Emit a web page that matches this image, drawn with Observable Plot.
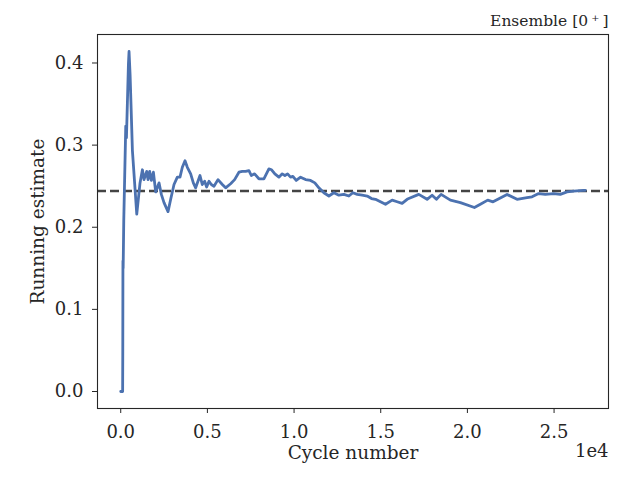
<!DOCTYPE html>
<html>
<head>
<meta charset="utf-8">
<script src="https://cdn.jsdelivr.net/npm/d3@7"></script>
<script src="https://cdn.jsdelivr.net/npm/@observablehq/plot@0.6"></script>
<style>
  html, body { margin: 0; padding: 0; background: #fff; }
</style>
</head>
<body>
<div id="chart"></div>
<script>
const cycles = [0, 110, 118, 128, 140, 175, 290, 330, 445, 480, 540, 675, 925, 1113, 1251, 1343, 1499, 1574, 1672, 1770, 1885, 2017, 2209, 2344, 2497, 2728, 2882, 3074, 3266, 3419, 3554, 3708, 3843, 4035, 4189, 4323, 4573, 4707, 4841, 4957, 5092, 5226, 5380, 5611, 5861, 6052, 6340, 6571, 6820, 7014, 7205, 7397, 7533, 7723, 7971, 8259, 8547, 8703, 8893, 9124, 9317, 9471, 9625, 9798, 9932, 10124, 10375, 10663, 10951, 11200, 11431, 11719, 12008, 12296, 12584, 12873, 13161, 13392, 13643, 13931, 14219, 14467, 14697, 14985, 15274, 15658, 15946, 16234, 16522, 16618, 17195, 17675, 17963, 18213, 18482, 19020, 19597, 20403, 20749, 21172, 21480, 22288, 22864, 23441, 23729, 24111, 24496, 24975, 25360, 25746, 26130, 26700, 26800];
const estimates = [0, 0, 0.044, 0.159, 0.150, 0.208, 0.323, 0.309, 0.399, 0.414, 0.386, 0.293, 0.216, 0.254, 0.270, 0.258, 0.268, 0.258, 0.268, 0.257, 0.267, 0.243, 0.254, 0.240, 0.230, 0.219, 0.234, 0.252, 0.261, 0.261, 0.273, 0.281, 0.273, 0.265, 0.254, 0.248, 0.263, 0.252, 0.256, 0.249, 0.256, 0.252, 0.250, 0.258, 0.252, 0.248, 0.253, 0.258, 0.267, 0.268, 0.268, 0.269, 0.263, 0.265, 0.259, 0.259, 0.271, 0.270, 0.265, 0.261, 0.265, 0.263, 0.265, 0.261, 0.262, 0.257, 0.261, 0.258, 0.257, 0.254, 0.248, 0.242, 0.238, 0.242, 0.239, 0.240, 0.238, 0.242, 0.240, 0.239, 0.238, 0.235, 0.234, 0.231, 0.228, 0.233, 0.231, 0.229, 0.234, 0.235, 0.240, 0.234, 0.239, 0.234, 0.240, 0.233, 0.230, 0.224, 0.228, 0.233, 0.231, 0.240, 0.234, 0.236, 0.237, 0.241, 0.240, 0.241, 0.240, 0.243, 0.244, 0.245, 0.245];
const referenceValue = [0.244];
const xTicks = [0, 5000, 10000, 15000, 20000, 25000];
const yTicks = [0, 0.1, 0.2, 0.3, 0.4];
const titleText = ["Ensemble [0\u2009\u207A\u2009]"];
const xLabel = ["Cycle number"];
const yLabel = ["Running estimate"];
const offsetText = ["1e4"];

const data = cycles.map((c, i) => ({cycle: c, value: estimates[i]}));
const ink = "#262626";

const chart = Plot.plot({
  width: 640,
  height: 480,
  marginLeft: 97,
  marginRight: 32,
  marginTop: 34,
  marginBottom: 72,
  style: {fontFamily: "DejaVu Serif", fontSize: "18px", color: ink, background: "#fff"},
  x: {domain: [-1340, 28140]},
  y: {domain: [-0.0207, 0.4347]},
  marks: [
    Plot.ruleY(referenceValue, {stroke: "#444444", strokeWidth: 2.5, strokeDasharray: "9,4"}),
    Plot.line(data, {x: "cycle", y: "value", stroke: "#4c72b0", strokeWidth: 2.8, strokeLinejoin: "round"}),
    Plot.frame({stroke: ink, strokeWidth: 1.1}),
    Plot.axisX({ticks: xTicks, tickFormat: d => (d / 1e4).toFixed(1), tickSize: 5, tickPadding: 12, label: null, fontSize: 18}),
    Plot.axisY({ticks: yTicks, tickFormat: d => d.toFixed(1), tickSize: 5, tickPadding: 9, label: null, fontSize: 18}),
    Plot.text(xLabel, {text: d => d, frameAnchor: "bottom", lineAnchor: "middle", textAnchor: "middle", dy: 45, fontSize: 18.5, fill: ink}),
    Plot.text(yLabel, {text: d => d, frameAnchor: "left", lineAnchor: "middle", textAnchor: "middle", dx: -59, rotate: -90, fontSize: 18.5, fill: ink}),
    Plot.text(offsetText, {text: d => d, frameAnchor: "bottom-right", lineAnchor: "middle", dy: 43, textAnchor: "end", fontSize: 18, fill: ink}),
    Plot.text(titleText, {text: d => d, frameAnchor: "top-right", lineAnchor: "middle", dy: -13, textAnchor: "end", fontSize: 15.5, fill: ink})
  ]
});
document.getElementById("chart").appendChild(chart);
</script>
</body>
</html>
